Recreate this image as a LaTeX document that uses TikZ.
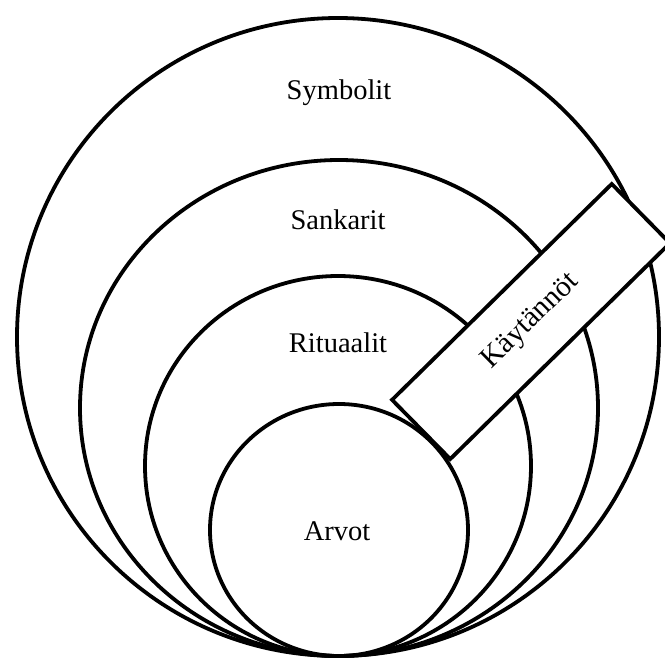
\documentclass[tikz,border=0pt]{standalone}
\usepackage{fontspec}
\setmainfont{Liberation Serif}
\begin{document}
\begin{tikzpicture}[x=1pt,y=-1pt,
  ring/.style={draw, line width=3.8pt},
  lab/.style={font=\fontsize{28.5}{32}\selectfont, anchor=base, inner sep=0pt},
  band/.style={draw, fill=white, line width=3.8pt, minimum width=308pt, minimum height=83pt, inner sep=0pt, font=\fontsize{29.5}{33}\selectfont}]
\useasboundingbox (0,0) rectangle (665,659);
\clip (0,0) rectangle (665,659);
\fill[white] (0,0) rectangle (665,659);
\draw[ring] (338,337) ellipse [x radius=321pt, y radius=319pt];
\draw[ring] (339,408) ellipse [x radius=259pt, y radius=248pt];
\draw[ring] (338,466) ellipse [x radius=193pt, y radius=190pt];
\draw[ring] (339,530) ellipse [x radius=129pt, y radius=126pt];
\node[lab] (sym) at (339,99) {Symbolit};
\node[lab] (san) at (338,229) {Sankarit};
\node[lab] (rit) at (338,352) {Rituaalit};
\node[lab] (arv) at (337,540) {Arvot};
\node[band, rotate=44.5] (kay) at (531,321.5) {Käytännöt};
\end{tikzpicture}
\end{document}
